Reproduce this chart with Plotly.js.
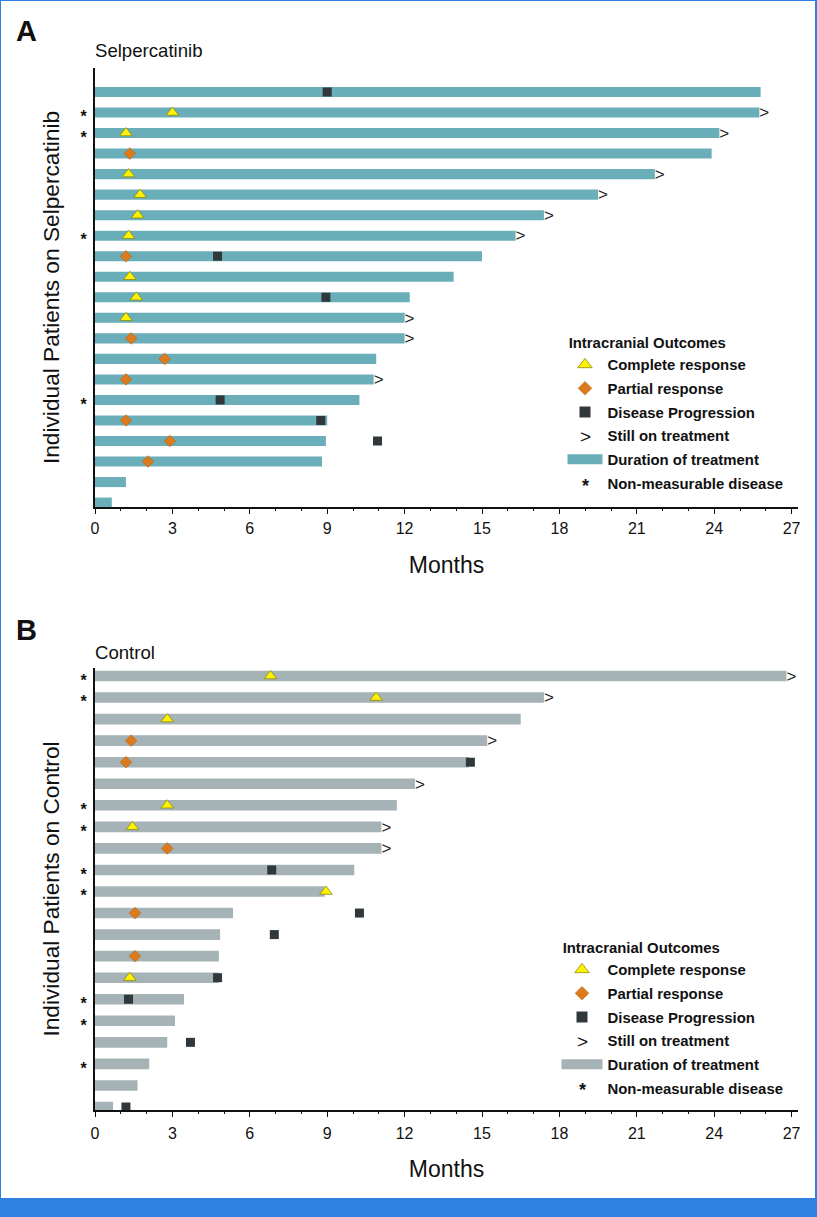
<!DOCTYPE html>
<html><head><meta charset="utf-8">
<script src="https://cdn.plot.ly/plotly-3.0.1.min.js"></script>
<style>html,body{margin:0;padding:0;background:#fff}</style></head>
<body><div id="chart" style="width:817px;height:1217px"></div>
<script>
// Panel A, patients top to bottom (months)
const durA  = [25.8,25.75,24.2,23.9,21.7,19.5,17.4,16.3,15,13.9,12.2,12,12,10.9,10.8,10.25,9,8.95,8.8,1.2,0.65];
const crA   = [null,3,1.2,null,1.3,1.75,1.65,1.3,null,1.35,1.6,1.2,null,null,null,null,null,null,null,null,null];
const prA   = [null,null,null,1.35,null,null,null,null,1.2,null,null,null,1.4,2.7,1.2,null,1.2,2.9,2.05,null,null];
const dpA   = [9,null,null,null,null,null,null,null,4.75,null,8.95,null,null,null,null,4.85,8.75,10.95,null,null,null];
const onA   = [0,1,1,0,1,1,1,1,0,0,0,1,1,0,1,0,0,0,0,0,0];
const nmA   = [0,1,1,0,0,0,0,1,0,0,0,0,0,0,0,1,0,0,0,0,0];
// Panel B, patients top to bottom (months)
const durB  = [26.8,17.4,16.5,15.2,14.5,12.4,11.7,11.1,11.1,10.05,8.9,5.35,4.85,4.8,4.8,3.45,3.1,2.8,2.1,1.65,0.7];
const crB   = [6.8,10.9,2.8,null,null,null,2.8,1.45,null,null,8.95,null,null,null,1.35,null,null,null,null,null,null];
const prB   = [null,null,null,1.4,1.2,null,null,null,2.8,null,null,1.55,null,1.55,null,null,null,null,null,null,null];
const dpB   = [null,null,null,null,14.55,null,null,null,null,6.85,null,10.25,6.95,null,4.75,1.3,null,3.7,null,null,1.2];
const onB   = [1,1,0,1,0,1,0,1,1,0,0,0,0,0,0,0,0,0,0,0,0];
const nmB   = [1,1,0,0,0,0,1,1,0,1,1,0,0,0,0,1,1,0,1,0,0];
const xTicks = [0,3,6,9,12,15,18,21,24,27];
const legendTitle = 'Intracranial Outcomes';
const names = {cr:'Complete response',pr:'Partial response',dp:'Disease Progression',on:'Still on treatment',dur:'Duration of treatment',nm:'Non-measurable disease'};

const W=817,H=1217, FONT='Liberation Sans, Arial, sans-serif';
const yellow='#fff200', orange='#dd7a1c', dark='#30383c';
const sym = {
  cr:{symbol:'triangle-up',color:yellow,line:{color:'#8a8a10',width:0.8}},
  pr:{symbol:'diamond',color:orange,line:{color:'#a9601a',width:0.5}},
  dp:{symbol:'square',color:dark,line:{width:0}},
  blank:{symbol:'square',color:'rgba(0,0,0,0)',line:{width:0}}
};
const size = {cr:11,pr:9,dp:9};
const keySize = {cr:12.5,pr:10.5,dp:11};

function panel(ax, ay, leg, dur, cr, pr, dp, on, barColor){
  const n=dur.length, rows=dur.map((_,i)=>n-i), out=[];
  const base={xaxis:ax,yaxis:ay,showlegend:false,hoverinfo:'x+y'};
  out.push(Object.assign({},base,{type:'bar',orientation:'h',x:dur,y:rows,width:0.49,marker:{color:barColor,line:{width:0}}}));
  // the ">" glyph sits slightly high in its line box, so it is lowered a little
  out.push(Object.assign({},base,{type:'scatter',mode:'text',name:names.on,x:dur.map((d,i)=>on[i]?d:null),y:rows.map(r=>r-0.07),cliponaxis:false,
     text:dur.map(()=>'>'),textposition:'middle right',textfont:{family:FONT,size:17,color:'#222'}}));
  const pts=(key,xs)=>out.push(Object.assign({},base,{type:'scatter',mode:'markers',name:names[key],x:xs,y:rows,cliponaxis:false,
     marker:Object.assign({},sym[key],{size:size[key]})}));
  pts('cr',cr); pts('pr',pr); pts('dp',dp);
  // legend keys, in the reference's order
  const key=(k,extra)=>out.push(Object.assign({type:'scatter',xaxis:ax,yaxis:ay,x:[null],y:[null],name:names[k],legend:leg,legendgroup:leg+k,showlegend:true},extra));
  ['cr','pr','dp'].forEach(k=>key(k,{mode:'markers',marker:Object.assign({},sym[k],{size:keySize[k]})}));
  key('on',{mode:'markers',marker:Object.assign({},sym.blank,{size:10})});
  key('dur',{mode:'lines',line:{color:barColor,width:10}});
  key('nm',{mode:'markers',marker:Object.assign({},sym.blank,{size:6})});
  return out;
}
const data=[].concat(
  panel('x','y','legend',durA,crA,prA,dpA,onA,'#6aaeb9'),
  panel('x2','y2','legend2',durB,crB,prB,dpB,onB,'#a5b3b7')
);

const xAxis=(anchor,standoff,labelOff)=>({anchor,domain:[95/W,798/W],range:[0,703/25.8],tickvals:xTicks,ticks:'outside',ticklen:5,tickwidth:1,tickcolor:'#111',
  minor:{dtick:1,ticks:'outside',ticklen:2,tickwidth:1,tickcolor:'#111',showgrid:false},ticklabelstandoff:labelOff,
  showline:true,linecolor:'#111',linewidth:2,showgrid:false,zeroline:false,tickfont:{family:FONT,size:16,color:'#111'},
  title:{text:'Months',font:{family:FONT,size:23,color:'#111'},standoff}});
// the asterisk glyph sits high in its line, so its labels are lowered a fifth of a row
const starTicks=(nm)=>{const r=[];nm.forEach((v,i)=>{if(v)r.push(nm.length-i-0.2)});return r};
const yAxis=(anchor,top,bot,range,title,nm,standoff)=>({anchor,domain:[1-bot/H,1-top/H],range,showline:true,linecolor:'#111',linewidth:2,showgrid:false,zeroline:false,
  ticks:'',tickvals:starTicks(nm),ticktext:starTicks(nm).map(()=>'*'),ticklabelstandoff:3,
  tickfont:{family:FONT,size:16,color:'#111',weight:'bold'},
  title:{text:title,font:{family:FONT,size:22.7,color:'#111'},standoff}});
const legend=(left,topY,iw)=>({x:left/W,y:1-topY/H,xanchor:'left',yanchor:'top',bgcolor:'rgba(0,0,0,0)',borderwidth:0,
  itemwidth:iw,itemclick:false,itemdoubleclick:false,tracegroupgap:1.3,traceorder:'grouped',
  font:{family:FONT,size:14.9,color:'#111',weight:'bold'},
  title:{text:'<b>&nbsp;'+legendTitle+'</b>',font:{family:FONT,size:14.9,color:'#111'}}});
const note=(text,x,y,size,bold)=>({xref:'paper',yref:'paper',x:x/W,y:1-y/H,xanchor:'left',yanchor:'middle',showarrow:false,
  text:bold?'<b>'+text+'</b>':text,font:{family:FONT,size,color:'#111'}});
const keyGlyph=(text,x,y,size)=>({xref:'paper',yref:'paper',x:x/W,y:1-y/H,xanchor:'center',yanchor:'middle',showarrow:false,
  text,font:{family:FONT,size,color:'#111'}});

const layout={
  width:W,height:H,margin:{l:0,r:0,t:0,b:0},paper_bgcolor:'#fff',plot_bgcolor:'rgba(0,0,0,0)',barmode:'overlay',
  xaxis:xAxis('y',21,1),
  yaxis:yAxis('x',68,507,[1-4.4/20.53,21+24/20.53],'Individual Patients on Selpercatinib',nmA,15),
  xaxis2:xAxis('y2',20,3),
  yaxis2:yAxis('x2',668,1110,[1-3/21.55,21+8/21.55],'Individual Patients on Control',nmB,15),
  legend:legend(562.5,329,35),
  legend2:legend(556.5,934,41),
  annotations:[note('A',14,31,29,true),note('Selpercatinib',93,51,18.6),note('B',14,630,29,true),note('Control',93,652,18.6),
    keyGlyph('&gt;',585,436,19),keyGlyph('<b>*</b>',585,486,18),keyGlyph('&gt;',582,1041,19),keyGlyph('<b>*</b>',582,1090,18)],
  shapes:[
    {type:'rect',xref:'paper',yref:'paper',x0:0,x1:1,y0:0,y1:19/H,fillcolor:'#2f80e0',line:{width:0},layer:'below'},
    {type:'rect',xref:'paper',yref:'paper',x0:0,x1:1/W,y0:0,y1:1,fillcolor:'#2f80e0',line:{width:0},layer:'below'},
    {type:'rect',xref:'paper',yref:'paper',x0:1-2/W,x1:1,y0:0,y1:1,fillcolor:'#2f80e0',line:{width:0},layer:'below'},
    {type:'rect',xref:'paper',yref:'paper',x0:0,x1:1,y0:1-1/H,y1:1,fillcolor:'#2f80e0',line:{width:0},layer:'below'}
  ]
};
Plotly.newPlot('chart',data,layout,{displayModeBar:false,responsive:false});
</script></body></html>
